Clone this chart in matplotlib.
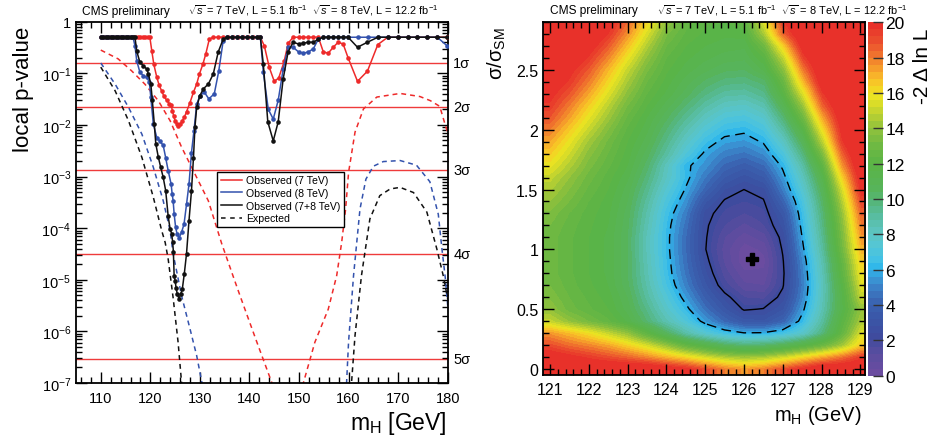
import numpy as np
import matplotlib
matplotlib.use("Agg")
import matplotlib.pyplot as plt
from matplotlib.colors import LinearSegmentedColormap, Normalize
from matplotlib.lines import Line2D
from matplotlib.ticker import FixedLocator, MultipleLocator, FuncFormatter, NullFormatter
import matplotlib.transforms as mtransforms

plt.rcParams['font.family'] = ['Liberation Sans', 'DejaVu Sans']
plt.rcParams['mathtext.fontset'] = 'custom'
plt.rcParams['mathtext.rm'] = 'Liberation Sans'
plt.rcParams['mathtext.it'] = 'Liberation Sans:italic'
plt.rcParams['mathtext.bf'] = 'Liberation Sans:bold'

# ---------------- local p-value scan ----------------
obs7_mass = [110, 110.5, 111, 111.5, 112, 112.5, 113, 113.5, 114, 114.5, 115, 115.5, 116, 116.5,
             117, 117.5, 118, 118.5, 119, 119.5, 119.9, 120.3, 120.7, 121.3, 121.75, 122.3, 122.75,
             123.3, 123.8, 124.2, 124.45, 124.7, 125.0, 125.3, 125.65, 126.05, 126.45, 126.85, 127.3,
             128.0, 128.7, 129.35, 129.9, 130.6, 131.2, 131.9, 132.7, 133.7, 134.7, 135.7, 136.7,
             137.7, 138.7, 139.7, 140.7, 141.7, 142.2, 143.0, 144.0, 145.0, 145.9, 147.0, 147.8,
             148.8, 149.9, 150.9, 151.9, 152.9, 153.9, 154.9, 155.9, 156.9, 157.9, 158.9, 159.9,
             161.8, 163.8, 165.9, 167.9, 169.9, 171.9, 173.9, 175.9, 177.9, 179.9]
obs7_p = [0.5] * 21 + [0.27, 0.15, 0.084, 0.06, 0.045, 0.036, 0.03, 0.026, 0.024, 0.019, 0.015,
                       0.012, 0.0104, 0.0096, 0.0104, 0.012, 0.014, 0.018, 0.027, 0.043, 0.062,
                       0.097, 0.15, 0.24, 0.46] + [0.5] * 11 + [0.34, 0.13, 0.07, 0.081, 0.17, 0.38] + \
         [0.5] * 6 + [0.26, 0.245, 0.32, 0.40, 0.37, 0.2, 0.07, 0.11, 0.36] + [0.5] * 7

obs8_mass = [110, 110.5, 111, 111.5, 112, 112.5, 113, 113.5, 114, 114.5, 115, 115.5, 116, 116.5,
             116.9, 117.25, 117.9, 118.6, 119.3, 119.8, 120.1, 120.6, 121.3, 121.9, 122.6, 123.1,
             123.6, 124.2, 124.4, 124.6, 124.8, 125.1, 125.4, 125.8, 126.3, 126.8, 127.3, 127.8,
             128.3, 128.8, 129.35, 130.0, 130.9, 131.8, 132.9, 133.8, 134.7, 135.5, 136.5, 137.5,
             138.5, 139.5, 140.5, 141.5, 142.2, 142.8, 143.8, 144.8, 145.8, 146.8, 147.8, 148.8,
             149.9, 150.9, 151.9, 152.9, 153.9, 154.9, 155.9, 156.9, 157.9, 158.9, 159.9, 161.9,
             163.9, 165.9, 167.9, 169.9, 171.9, 173.9, 175.9, 177.9, 179.9]
obs8_p = [0.5] * 14 + [0.34, 0.176, 0.104, 0.09, 0.084, 0.067, 0.034, 0.0104, 0.0057, 0.0049,
                       0.0040, 0.0023, 0.0013, 7.1e-4, 4.6e-4, 3.4e-4, 1.9e-4, 1.04e-4, 7.7e-5,
                       6.5e-5, 8.3e-5, 1.2e-4, 2.9e-4, 7.1e-4, 2.9e-3, 7.7e-3, 0.025, 0.037, 0.043,
                       0.032, 0.04, 0.11, 0.43] + [0.5] * 8 + \
         [0.105, 0.020, 0.013, 0.03, 0.12, 0.32, 0.32, 0.26, 0.245, 0.26, 0.30, 0.46] + [0.5] * 15 + [0.34]

comb_mass = [110, 110.5, 111, 111.5, 112, 112.5, 113, 113.5, 114, 114.5, 115, 115.5, 116, 116.5,
             116.9, 117.25, 117.9, 118.6, 119.3, 119.6, 120.1, 120.4, 120.8, 121.1, 121.6, 122.1,
             122.6, 123.1, 123.6, 124.0, 124.3, 124.5, 124.65, 124.8, 125.0, 125.2, 125.45, 125.8,
             126.1, 126.45, 126.85, 127.3, 127.8, 128.3, 128.7, 129.0, 129.35, 130.0, 130.7, 131.7,
             132.7, 133.7, 134.7, 135.5, 136.5, 137.5, 138.5, 139.5, 140.5, 141.5, 142.2, 142.8,
             143.7, 144.8, 145.8, 146.8, 147.8, 148.8, 149.9, 150.9, 151.9, 152.9, 153.9, 154.9,
             155.9, 156.9, 157.9, 158.9, 159.9, 161.8, 163.8, 165.9, 167.9, 169.9, 171.9, 173.9,
             175.9, 177.9, 179.9]
comb_p = [0.5] * 15 + [0.27, 0.163, 0.14, 0.12, 0.097, 0.062, 0.03, 0.0104, 0.0043, 0.0024, 0.0015,
                       9.6e-4, 5.3e-4, 1.7e-4, 9.5e-5, 7.8e-5, 5.4e-5, 3.5e-5, 1.2e-5, 9.5e-6, 7e-6,
                       5.2e-6, 4.3e-6, 5.2e-6, 6.6e-6, 1.3e-5, 3.2e-5, 1.4e-4, 5.3e-4, 2.3e-3, 9e-3,
                       0.022, 0.037, 0.05, 0.062, 0.097, 0.26, 0.46] + [0.5] * 8 + \
         [0.15, 0.0115, 0.0049, 0.0115, 0.078, 0.26, 0.40, 0.37, 0.385, 0.40, 0.40, 0.46] + \
         [0.5] * 6 + [0.32, 0.40] + [0.5] * 8

exp7_mass = [110, 113.5, 116.2, 118.9, 121.6, 124.0, 126.3, 129.0, 131.7, 134.4, 136.7, 138.1, 141.5,
             144.5, 148.0, 150.9, 153.2, 155.9, 157.6, 158.6, 159.4, 160.0, 161.3, 163.0, 165.7,
             170.4, 174.4, 176.5, 178.4, 179.5, 180.0]
exp7_log10p = [-0.55, -0.72, -0.95, -1.21, -1.53, -1.92, -2.43, -2.95, -3.47, -4.3, -4.93, -5.31,
               -6.21, -6.99, -8.0, -6.99, -6.21, -5.57, -4.92, -4.28, -3.63, -2.92, -2.14, -1.69,
               -1.46, -1.39, -1.45, -1.53, -1.64, -2.0, -2.15]

exp8_mass = [110, 112.9, 115.6, 118.3, 120.6, 122.6, 124.0, 124.6, 125.3, 126.3, 128.0, 129.35, 130.4,
             132.0, 157.0, 159.6, 160.0, 161.0, 162.3, 163.5, 165.0, 167.0, 170.4, 173.7, 176.4,
             178.1, 178.8, 179.5, 180.0]
exp8_log10p = [-0.80, -1.21, -1.66, -2.18, -2.82, -3.47, -4.05, -4.5, -4.83, -5.31, -5.95, -6.47,
               -6.99, -8.0, -8.0, -6.99, -6.2, -4.92, -3.63, -3.05, -2.8, -2.71, -2.69, -2.78, -3.1,
               -3.73, -4.37, -4.95, -5.5]

expc_mass = [110, 112.9, 115.6, 118.3, 120.6, 122.3, 123.0, 123.6, 124.6, 125.6, 126.3, 127.5,
             159.5, 160.6, 161.3, 162.6, 164.3, 166.3, 168.4, 170.4, 173.1, 175.8, 177.8, 179.1, 180.0]
expc_log10p = [-0.88, -1.34, -1.92, -2.63, -3.40, -4.05, -4.28, -4.6, -5.35, -6.21, -6.99, -8.0,
               -8.0, -6.99, -6.08, -4.92, -3.82, -3.37, -3.24, -3.21, -3.31, -3.69, -4.40, -4.92, -5.37]

sigma_names = ['1σ', '2σ', '3σ', '4σ', '5σ']
sigma_pvalues = [0.1587, 0.02275, 1.35e-3, 3.167e-5, 2.867e-7]

# ---------------- likelihood scan in (mH, sigma/sigma_SM) ----------------
scan_mass = [121.0, 121.5, 122.0, 122.5, 123.0, 123.5, 124.0, 124.5, 125.0, 125.5, 126.0, 126.5,
             127.0, 127.5, 128.0, 128.5, 129.0]
scan_mu = [0.0, 0.1, 0.2, 0.3, 0.4, 0.5, 0.6, 0.7, 0.8, 0.9, 1.0, 1.1, 1.2, 1.3, 1.4, 1.5, 1.6, 1.7,
           1.8, 1.9, 2.0, 2.1, 2.2, 2.3, 2.4, 2.5, 2.6, 2.7, 2.8, 2.9]
scan_q = [
    [21, 21, 21, 21, 21, 21, 20.5, 20, 19, 18, 17.5, 18, 19, 20, 21, 21, 21],
    [20.5, 20, 19.5, 19, 18.5, 17.8, 17, 16.2, 15.3, 14.6, 14.2, 14.5, 15.2, 16.2, 17.2, 18.2, 19.5],
    [19, 18.3, 17.8, 17.2, 16.3, 15.3, 14.0, 12.5, 11.5, 10.5, 10, 10.2, 10.8, 11.7, 12.8, 14.3, 16.5],
    [17.5, 16.8, 16.0, 15.0, 14.0, 12.3, 10.5, 8.8, 7.5, 6.6, 6.05, 6.1, 6.7, 7.8, 9.8, 12.5, 15.5],
    [15, 14, 13.2, 12.5, 11.5, 10, 8.5, 7.2, 5.6, 4.3, 3.4, 3.3, 4.2, 6.4, 9, 12, 14.5],
    [14, 13, 12.5, 12, 11, 9.5, 7.8, 6.3, 4.6, 3.3, 2.2, 2.35, 3.2, 5.7, 8.5, 11.5, 14],
    [13.5, 12.8, 12.3, 11.8, 10.8, 9.0, 7.3, 5.6, 3.9, 2.6, 1.6, 1.5, 2.6, 5.2, 8.3, 11.5, 15],
    [13.2, 12.6, 12.1, 11.6, 10.5, 8.7, 6.8, 5.0, 3.3, 1.8, 0.9, 0.8, 2.2, 5.0, 8.2, 11.8, 15.5],
    [13, 12.5, 12, 11.5, 10.4, 8.5, 6.5, 4.7, 2.9, 1.4, 0.5, 0.5, 2.1, 5.1, 8.4, 12.2, 16],
    [13, 12.5, 12, 11.5, 10.4, 8.4, 6.4, 4.5, 2.6, 1.1, 0.1, 0.3, 2.2, 5.3, 8.6, 12.5, 16.5],
    [13, 12.5, 12, 11.5, 10.4, 8.3, 6.3, 4.4, 2.35, 1.0, 0.2, 0.5, 2.4, 5.7, 9, 13, 17],
    [13, 12.5, 12, 11.5, 10.4, 8.3, 6.3, 4.4, 2.4, 1.2, 0.6, 1.0, 2.6, 6.0, 9.3, 13.3, 17.5],
    [13.2, 12.6, 12.1, 11.6, 10.5, 8.5, 6.4, 4.6, 2.45, 1.6, 1.1, 1.6, 3.0, 6.3, 9.6, 13.6, 18],
    [13.5, 12.8, 12.2, 11.7, 10.6, 8.7, 6.6, 4.9, 2.6, 1.9, 1.6, 1.9, 3.4, 6.6, 9.9, 14.0, 18.5],
    [14, 13.2, 12.4, 11.8, 10.8, 9.0, 7.0, 5.4, 3.3, 2.2, 2.0, 2.2, 4.2, 7.0, 10.3, 14.6, 19.2],
    [14.5, 13.6, 12.7, 12, 11, 9.4, 7.5, 5.9, 4.2, 2.8, 2.3, 2.7, 5.0, 7.6, 10.8, 15.3, 20],
    [15, 14, 13, 12.2, 11.3, 9.8, 8.0, 6.3, 4.8, 3.6, 3.0, 3.6, 5.6, 8.2, 11.4, 16.3, 20.5],
    [15.8, 14.6, 13.4, 12.5, 11.6, 10.2, 8.2, 6.2, 5.4, 4.3, 3.8, 4.4, 6.2, 8.9, 12.3, 17.5, 21],
    [16.5, 15.2, 13.8, 12.8, 11.8, 10.6, 9.0, 7.2, 5.8, 5.0, 4.7, 5.3, 7.1, 9.8, 13.5, 18.5, 21.5],
    [17.2, 15.8, 14.3, 13.1, 12, 11, 9.5, 7.9, 6.5, 5.7, 5.5, 6.1, 8.0, 10.8, 14.8, 19.5, 22],
    [18, 16.5, 15, 13.6, 12.3, 11.3, 10, 8.6, 7.3, 6.4, 6.2, 6.9, 9.0, 11.8, 16, 20, 22],
    [18.8, 17.3, 15.7, 14.2, 12.7, 11.6, 10.5, 9.3, 8.1, 7.2, 7.0, 7.7, 10.0, 13, 17.2, 20.5, 22],
    [19.5, 18, 16.4, 14.8, 13.2, 12, 11, 10, 8.9, 8.1, 7.9, 8.6, 11, 14.2, 18.5, 21, 22],
    [20, 18.8, 17.2, 15.5, 13.8, 12.4, 11.5, 10.6, 9.7, 9.0, 8.9, 9.5, 12, 15.5, 19.5, 21.5, 22],
    [20.5, 19.5, 18, 16.2, 14.4, 12.8, 11.8, 11.0, 10.3, 9.8, 9.7, 10.2, 12.8, 16.8, 20.5, 22, 22],
    [21, 20, 18.7, 16.9, 15, 13.3, 12.1, 11.4, 10.9, 10.5, 10.4, 11.3, 13.8, 18, 21, 22, 22],
    [21.5, 20.8, 19.5, 17.8, 15.8, 13.9, 12.4, 11.7, 11.3, 11.0, 10.9, 12.0, 15.0, 19.2, 21.5, 22, 22],
    [22, 21.5, 20.3, 18.7, 16.7, 14.6, 12.8, 12.0, 11.6, 11.4, 11.3, 13.0, 16.5, 20.3, 22, 22, 22],
    [22, 22, 21, 19.6, 17.6, 15.4, 13.3, 12.3, 11.9, 11.7, 11.8, 14.5, 18.5, 21, 22, 22, 22],
    [22, 22, 21.5, 20.3, 18.4, 16.2, 14, 12.6, 12.1, 12.0, 12.3, 15.5, 19.5, 22, 22, 22, 22],
]
best_fit_mass = 126.2
best_fit_mu = 0.92
contour_levels = [2.3, 5.99]

# ---------------- figure ----------------
W, H = 938, 439
fig = plt.figure(figsize=(W / 100, H / 100), dpi=100)


def frac_box(x0, y0, x1, y1):
    return [x0 / W, 1 - y1 / H, (x1 - x0) / W, (y1 - y0) / H]


RED = '#ee2a2a'
BLUE = '#3352ad'
BLACK = '#111111'

axL = fig.add_axes(frac_box(76, 22.7, 447.7, 384))
axL.set_yscale('log')
axL.set_xlim(105, 180)
axL.set_ylim(1e-7, 1)

for p in sigma_pvalues:
    axL.axhline(p, color='#ef3b3b', lw=1.0, zorder=1)

dash = (0, (3.2, 2.6))
axL.plot(exp7_mass, 10 ** np.array(exp7_log10p), color=RED, lw=1.1, ls=dash, zorder=2)
axL.plot(exp8_mass, 10 ** np.array(exp8_log10p), color=BLUE, lw=1.1, ls=dash, zorder=2)
axL.plot(expc_mass, 10 ** np.array(expc_log10p), color=BLACK, lw=1.1, ls=dash, zorder=2)

mk = dict(marker='o', markersize=3.3, lw=1.1, markeredgewidth=0)
axL.plot(obs7_mass, obs7_p, color=RED, zorder=4, **mk)
axL.plot(obs8_mass, obs8_p, color=BLUE, zorder=5, **mk)
axL.plot(comb_mass, comb_p, color=BLACK, zorder=6, **mk)

axL.xaxis.set_major_locator(MultipleLocator(10))
axL.xaxis.set_minor_locator(MultipleLocator(2))
axL.yaxis.set_major_locator(FixedLocator([10.0 ** k for k in range(-7, 1)]))
axL.yaxis.set_minor_locator(FixedLocator([m * 10.0 ** k for k in range(-7, 0) for m in range(2, 10)]))
axL.yaxis.set_minor_formatter(NullFormatter())


def pfmt(v, pos):
    k = int(round(np.log10(v)))
    return '1' if k == 0 else r'$10^{%d}$' % k


axL.yaxis.set_major_formatter(FuncFormatter(pfmt))
axL.tick_params(which='both', direction='in', top=True, right=True, width=1.0, labelsize=10.5)
axL.tick_params(which='major', length=8)
axL.tick_params(which='minor', length=4)
axL.tick_params(axis='x', pad=6)
for s in axL.spines.values():
    s.set_linewidth(1.3)

trans = mtransforms.blended_transform_factory(axL.transAxes, axL.transData)
for name, p in zip(sigma_names, sigma_pvalues):
    axL.text(1.015, p, name, transform=trans, ha='left', va='center', fontsize=10.5, clip_on=False)

handles = [Line2D([], [], color=RED, lw=1.1), Line2D([], [], color=BLUE, lw=1.1),
           Line2D([], [], color=BLACK, lw=1.1), Line2D([], [], color=BLACK, lw=1.1, ls=(0, (3, 3)))]
labels = ['Observed (7 TeV)', 'Observed (8 TeV)', 'Observed (7+8 TeV)', 'Expected']
leg = axL.legend(handles, labels, loc='upper left', bbox_to_anchor=(0.380, 0.585), borderaxespad=0,
                 fontsize=7.6, frameon=True, fancybox=False, edgecolor='black', framealpha=1,
                 handlelength=2.0, handletextpad=0.4, labelspacing=0.25, borderpad=0.35)
leg.get_frame().set_linewidth(1.0)
leg.set_zorder(10)

fig.text(24 / W, 1 - 27 / H, 'local p-value', rotation=90, ha='center', va='top', fontsize=16)
fig.text(447 / W, 1 - 430 / H, r'm$_{\mathrm{H}}$ [GeV]', ha='right', va='baseline', fontsize=16.5)

header = r'$\sqrt{s}$ = 7 TeV, L = 5.1 fb$^{-1}$  $\sqrt{s}$ = 8 TeV, L = 12.2 fb$^{-1}$'
fig.text(82 / W, 1 - 15 / H, 'CMS preliminary', ha='left', va='baseline', fontsize=8.6)
fig.text(188 / W, 1 - 15 / H, header, ha='left', va='baseline', fontsize=7.9)

# ---------------- right panel ----------------
axR = fig.add_axes(frac_box(543, 23, 865, 376))
cax = fig.add_axes(frac_box(867.5, 23.3, 882.5, 376.7))

anchors = [(0.0, '#6b4ca0'), (1.0, '#5a4d9f'), (2.0, '#3f4b9e'), (3.0, '#3a55a6'), (4.0, '#3a62b0'),
           (4.8, '#3b7cc4'), (5.5, '#3a9ad8'), (6.0, '#2cb6ec'), (6.6, '#45c2e4'), (7.4, '#56c6d2'),
           (8.2, '#5cc3bc'), (9.0, '#58bda0'), (9.8, '#55b67c'), (10.5, '#57b45c'), (12.0, '#5ab446'),
           (13.0, '#6cb843'), (14.0, '#8ec13d'), (14.8, '#b6cf33'), (15.5, '#dadd28'), (16.0, '#ede422'),
           (16.6, '#f7cc26'), (17.2, '#f8b02a'), (17.8, '#f48f2c'), (18.5, '#ef6a2e'), (19.2, '#ea4a2d'),
           (20.0, '#e8312a')]
cmap = LinearSegmentedColormap.from_list('palette', [(v / 20.0, c) for v, c in anchors], N=50)
cmap.set_over('#e8312a')
norm = Normalize(vmin=0, vmax=20)

Z = np.array(scan_q)
dm = (scan_mass[1] - scan_mass[0]) / 2
dmu = (scan_mu[1] - scan_mu[0]) / 2
im = axR.imshow(Z, origin='lower', aspect='auto', cmap=cmap, norm=norm,
                extent=[scan_mass[0] - dm, scan_mass[-1] + dm, scan_mu[0] - dmu, scan_mu[-1] + dmu],
                interpolation='bilinear', interpolation_stage='data', zorder=1)
axR.contour(scan_mass, scan_mu, Z, levels=[contour_levels[0]], colors='black', linewidths=1.0, zorder=3)
cs = axR.contour(scan_mass, scan_mu, Z, levels=[contour_levels[1]], colors='black', linewidths=1.0,
                 linestyles=[(0, (7, 4))], zorder=3)
axR.plot([best_fit_mass], [best_fit_mu], marker='P', color='black', markersize=9, zorder=5)

axR.set_xlim(120.82, 129.12)
axR.set_ylim(-0.05, 2.9)
axR.xaxis.set_major_locator(MultipleLocator(1))
axR.xaxis.set_minor_locator(MultipleLocator(0.2))
axR.yaxis.set_major_locator(FixedLocator([0, 0.5, 1, 1.5, 2, 2.5]))
axR.yaxis.set_minor_locator(MultipleLocator(0.1))
axR.yaxis.set_major_formatter(FuncFormatter(lambda v, p: '%g' % v))
axR.tick_params(which='both', direction='in', top=True, right=True, width=1.0, labelsize=11.5)
axR.tick_params(which='major', length=8)
axR.tick_params(which='minor', length=4)
axR.tick_params(axis='x', pad=5)
for s in axR.spines.values():
    s.set_linewidth(1.3)

cb = fig.colorbar(im, cax=cax, ticks=list(range(0, 21, 2)), extend='neither')
cb.outline.set_visible(False)
cax.tick_params(direction='in', length=7, width=1.0, labelsize=12.5, pad=2, color='#333333')

fig.text(497 / W, 1 - 27 / H, r'σ/σ$_{\mathrm{SM}}$', rotation=90, ha='center', va='top', fontsize=14.5)
fig.text(922 / W, 1 - 29 / H, '-2 Δ ln L', rotation=90, ha='center', va='top', fontsize=15)
fig.text(862 / W, 1 - 421 / H, r'm$_{\mathrm{H}}$ (GeV)', ha='right', va='baseline', fontsize=14.5)
fig.text(550 / W, 1 - 14 / H, 'CMS preliminary', ha='left', va='baseline', fontsize=8.6)
fig.text(657 / W, 1 - 14 / H, header, ha='left', va='baseline', fontsize=7.9)

fig.savefig('out.png', dpi=100)
